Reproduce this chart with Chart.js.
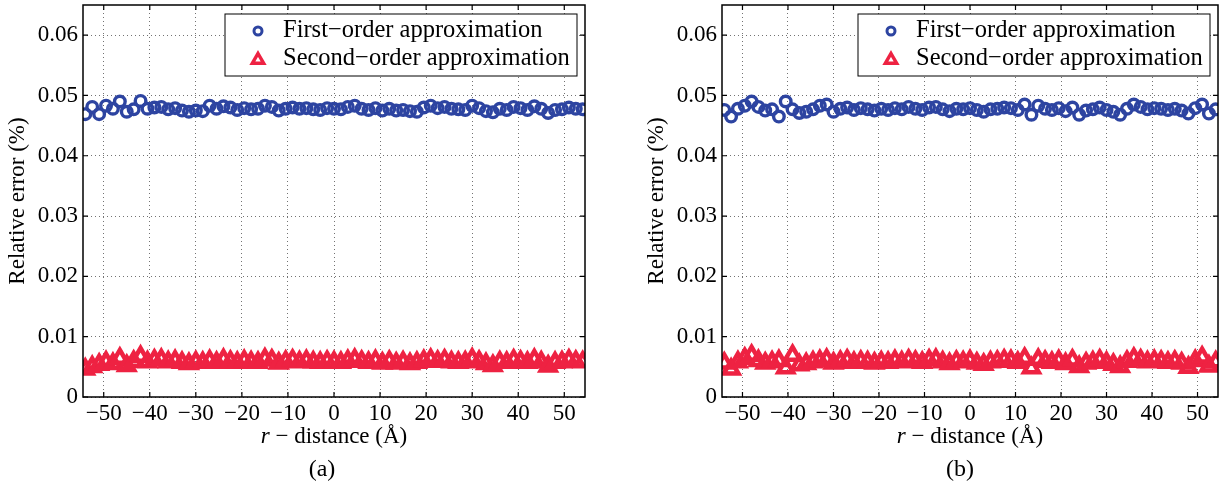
<!DOCTYPE html>
<html>
<head>
<meta charset="utf-8">
<script src="https://cdn.jsdelivr.net/npm/chart.js@4.4.0/dist/chart.umd.min.js"></script>
<style>
body { margin: 0; background: #fff; width: 1220px; height: 492px; overflow: hidden; position: relative; font-family: "Liberation Serif", serif; }
.box { position: absolute; top: 0; height: 460px; }
#boxA { left: 0; width: 600px; }
#boxB { left: 637px; width: 583px; }
.cap { position: absolute; top: 455px; width: 60px; text-align: center; font-size: 24px; color: #000; }
</style>
</head>
<body>
<div class="box" id="boxA"><canvas id="chartA"></canvas></div>
<div class="box" id="boxB"><canvas id="chartB"></canvas></div>
<div class="cap" style="left:292px">(a)</div>
<div class="cap" style="left:930px">(b)</div>
<script>
// r - distance (Angstrom), same sample points for both panels
var distances = [
  -54, -52.5, -51, -49.5, -48, -46.5, -45, -43.5, -42, -40.5,
  -39, -37.5, -36, -34.5, -33, -31.5, -30, -28.5, -27, -25.5,
  -24, -22.5, -21, -19.5, -18, -16.5, -15, -13.5, -12, -10.5,
  -9, -7.5, -6, -4.5, -3, -1.5, 0, 1.5, 3, 4.5,
  6, 7.5, 9, 10.5, 12, 13.5, 15, 16.5, 18, 19.5,
  21, 22.5, 24, 25.5, 27, 28.5, 30, 31.5, 33, 34.5,
  36, 37.5, 39, 40.5, 42, 43.5, 45, 46.5, 48, 49.5,
  51, 52.5, 54
];

// panel (a)
var firstOrderA = [
  0.0469, 0.0481, 0.0469, 0.0483, 0.0478, 0.0490, 0.0473, 0.0477, 0.0491, 0.0478,
  0.0480, 0.0481, 0.0477, 0.0479, 0.0475, 0.0473, 0.0475, 0.0474, 0.0483, 0.0478,
  0.0482, 0.0480, 0.0476, 0.0479, 0.0477, 0.0478, 0.0483, 0.0481, 0.0475, 0.0478,
  0.0480, 0.0478, 0.0479, 0.0477, 0.0476, 0.0479, 0.0478, 0.0477, 0.0481, 0.0483,
  0.0478, 0.0476, 0.0479, 0.0475, 0.0478, 0.0475, 0.0476, 0.0474, 0.0473, 0.0480,
  0.0483, 0.0479, 0.0481, 0.0478, 0.0477, 0.0476, 0.0483, 0.0479, 0.0474, 0.0472,
  0.0478, 0.0476, 0.0481, 0.0479, 0.0476, 0.0482, 0.0478, 0.0471, 0.0476, 0.0477,
  0.0480, 0.0478, 0.0477
];
var secondOrderA = [
  0.0046, 0.0050, 0.0054, 0.0058, 0.0055, 0.0064, 0.0052, 0.0059, 0.0067, 0.0058,
  0.0061, 0.0062, 0.0058, 0.0060, 0.0057, 0.0055, 0.0058, 0.0057, 0.0060, 0.0057,
  0.0062, 0.0059, 0.0057, 0.0060, 0.0058, 0.0057, 0.0063, 0.0061, 0.0056, 0.0059,
  0.0061, 0.0058, 0.0060, 0.0058, 0.0057, 0.0059, 0.0058, 0.0057, 0.0060, 0.0062,
  0.0059, 0.0057, 0.0060, 0.0056, 0.0059, 0.0056, 0.0058, 0.0055, 0.0057, 0.0060,
  0.0062, 0.0059, 0.0061, 0.0058, 0.0057, 0.0058, 0.0063, 0.0059, 0.0055, 0.0052,
  0.0058, 0.0057, 0.0061, 0.0059, 0.0057, 0.0062, 0.0058, 0.0051, 0.0057, 0.0058,
  0.0061, 0.0059, 0.0058
];

// panel (b)
var firstOrderB = [
  0.0476, 0.0465, 0.0478, 0.0483, 0.0490, 0.0481, 0.0475, 0.0477, 0.0465, 0.0490,
  0.0477, 0.0471, 0.0473, 0.0477, 0.0483, 0.0485, 0.0473, 0.0478, 0.0480, 0.0476,
  0.0479, 0.0477, 0.0475, 0.0478, 0.0476, 0.0479, 0.0477, 0.0481, 0.0478, 0.0476,
  0.0480, 0.0481, 0.0477, 0.0474, 0.0478, 0.0477, 0.0479, 0.0476, 0.0473, 0.0477,
  0.0478, 0.0480, 0.0479, 0.0476, 0.0485, 0.0468, 0.0483, 0.0478, 0.0476, 0.0479,
  0.0474, 0.0480, 0.0468, 0.0475, 0.0477, 0.0480, 0.0476, 0.0473, 0.0468, 0.0478,
  0.0485, 0.0481, 0.0477, 0.0479, 0.0478, 0.0476, 0.0478, 0.0475, 0.0470, 0.0479,
  0.0485, 0.0470, 0.0477
];
var secondOrderB = [
  0.0056, 0.0046, 0.0058, 0.0064, 0.0069, 0.0060, 0.0056, 0.0058, 0.0060, 0.0048,
  0.0069, 0.0053, 0.0055, 0.0058, 0.0060, 0.0062, 0.0056, 0.0059, 0.0061, 0.0057,
  0.0059, 0.0058, 0.0056, 0.0058, 0.0057, 0.0060, 0.0058, 0.0061, 0.0059, 0.0057,
  0.0061, 0.0062, 0.0058, 0.0055, 0.0059, 0.0058, 0.0060, 0.0056, 0.0054, 0.0058,
  0.0059, 0.0061, 0.0060, 0.0057, 0.0064, 0.0048, 0.0062, 0.0059, 0.0057, 0.0060,
  0.0055, 0.0061, 0.0050, 0.0056, 0.0058, 0.0061, 0.0057, 0.0054, 0.0050, 0.0059,
  0.0064, 0.0061, 0.0058, 0.0060, 0.0059, 0.0057, 0.0059, 0.0056, 0.0049, 0.0060,
  0.0066, 0.0051, 0.0058
];

var seriesNames = ['First\u2212order approximation', 'Second\u2212order approximation'];
var xTicks = [-50, -40, -30, -20, -10, 0, 10, 20, 30, 40, 50];
var yTicks = [0, 0.01, 0.02, 0.03, 0.04, 0.05, 0.06];

var BLUE = '#2d44a1';
var RED = '#ee2242';
var FONT = '"Liberation Serif", "Times New Roman", serif';

function toPoints(ys) {
    return distances.map(function (d, i) { return {x: d, y: ys[i]}; });
}

// matlab style box, inward ticks, legend inside and the x label with italic r
var framePlugin = {
    id: 'frame',
    afterDraw: function (chart) {
        var ctx = chart.ctx, a = chart.chartArea;
        var xs = chart.scales.x, ys = chart.scales.y;
        ctx.save();
        ctx.strokeStyle = '#000';
        ctx.lineWidth = 1.2;
        ctx.beginPath();
        xTicks.forEach(function (v) {
            var p = xs.getPixelForValue(v);
            ctx.moveTo(p, a.bottom); ctx.lineTo(p, a.bottom - 5);
            ctx.moveTo(p, a.top); ctx.lineTo(p, a.top + 5);
        });
        yTicks.forEach(function (v) {
            var p = ys.getPixelForValue(v);
            ctx.moveTo(a.left, p); ctx.lineTo(a.left + 5, p);
            ctx.moveTo(a.right, p); ctx.lineTo(a.right - 5, p);
        });
        ctx.stroke();
        ctx.lineWidth = 1.5;
        ctx.strokeRect(a.left, a.top, a.right - a.left, a.bottom - a.top);

        // legend
        var lw = 352, lh = 62;
        var lx = a.right - 8 - lw, ly = a.top + 9;
        ctx.fillStyle = '#fff';
        ctx.fillRect(lx, ly, lw, lh);
        ctx.lineWidth = 1;
        ctx.strokeRect(lx, ly, lw, lh);
        var rows = [ly + 17, ly + 45];
        ctx.lineWidth = 3;
        ctx.strokeStyle = BLUE;
        ctx.beginPath();
        ctx.arc(lx + 33, rows[0], 4, 0, Math.PI * 2);
        ctx.stroke();
        ctx.strokeStyle = RED;
        ctx.lineWidth = 3.5;
        ctx.beginPath();
        var r = 6.5, cx = lx + 33, cy = rows[1] + 1;
        ctx.moveTo(cx, cy - r);
        ctx.lineTo(cx + r * 0.866, cy + r / 2);
        ctx.lineTo(cx - r * 0.866, cy + r / 2);
        ctx.closePath();
        ctx.stroke();
        ctx.fillStyle = '#000';
        ctx.font = '24.5px ' + FONT;
        ctx.textBaseline = 'middle';
        ctx.textAlign = 'left';
        ctx.fillText(seriesNames[0], lx + 58, rows[0]);
        ctx.fillText(seriesNames[1], lx + 58, rows[1]);

        // x axis label
        var t1 = 'r', t2 = ' \u2212 distance (\u00c5)';
        ctx.font = 'italic 23px ' + FONT;
        var w1 = ctx.measureText(t1).width;
        ctx.font = '23px ' + FONT;
        var w2 = ctx.measureText(t2).width;
        var sx = (a.left + a.right) / 2 - (w1 + w2) / 2;
        var ty = a.bottom + 40;
        ctx.font = 'italic 23px ' + FONT;
        ctx.fillText(t1, sx, ty);
        ctx.font = '23px ' + FONT;
        ctx.fillText(t2, sx + w1, ty);
        ctx.restore();
    }
};

function noPad(s) {
    s.paddingTop = 0; s.paddingBottom = 0; s.paddingLeft = 0; s.paddingRight = 0;
}

function makeChart(id, firstVals, secondVals, yAxisWidth, padRight, titlePad) {
    var ctx = document.getElementById(id).getContext('2d');
    return new Chart(ctx, {
        type: 'scatter',
        data: {
            datasets: [{
                label: seriesNames[0],
                data: toPoints(firstVals),
                pointStyle: 'circle',
                pointRadius: 5.3,
                pointBorderWidth: 3.4,
                borderColor: BLUE,
                backgroundColor: 'rgba(0,0,0,0)'
            }, {
                label: seriesNames[1],
                data: toPoints(secondVals),
                pointStyle: 'triangle',
                pointRadius: 8.5,
                pointBorderWidth: 4.5,
                borderColor: RED,
                backgroundColor: 'rgba(0,0,0,0)'
            }]
        },
        options: {
            responsive: true,
            maintainAspectRatio: false,
            animation: false,
            layout: { autoPadding: false, padding: { top: 5, right: padRight, left: 0, bottom: 0 } },
            plugins: {
                legend: { display: false },
                tooltip: { enabled: false }
            },
            scales: {
                x: {
                    type: 'linear',
                    min: -54.5,
                    max: 54.5,
                    ticks: {
                        stepSize: 10,
                        maxRotation: 0,
                        padding: 3,
                        color: '#000',
                        font: { family: FONT, size: 23 },
                        callback: function (v) { return v < 0 ? '\u2212' + Math.abs(v) : '' + v; }
                    },
                    afterBuildTicks: function (s) {
                        s.ticks = xTicks.map(function (v) { return {value: v}; });
                    },
                    afterFit: function (s) { s.height = 63; noPad(s); },
                    grid: { color: 'rgba(0,0,0,0.55)', lineWidth: 1, drawTicks: false },
                    border: { display: false, dash: [1, 3] }
                },
                y: {
                    min: 0,
                    max: 0.065,
                    ticks: {
                        stepSize: 0.01,
                        padding: 5,
                        color: '#000',
                        font: { family: FONT, size: 23 },
                        callback: function (v) { return v === 0 ? '0' : v.toFixed(2); }
                    },
                    afterBuildTicks: function (s) {
                        s.ticks = yTicks.map(function (v) { return {value: v}; });
                    },
                    afterFit: function (s) { s.width = yAxisWidth; noPad(s); },
                    title: {
                        display: true,
                        text: 'Relative error (%)',
                        color: '#000',
                        font: { family: FONT, size: 23 },
                        padding: { top: titlePad, bottom: 0 }
                    },
                    grid: { color: 'rgba(0,0,0,0.55)', lineWidth: 1, drawTicks: false },
                    border: { display: false, dash: [1, 3] }
                }
            }
        },
        plugins: [framePlugin]
    });
}

var chartA = makeChart('chartA', firstOrderA, secondOrderA, 83, 15, 4);
var chartB = makeChart('chartB', firstOrderB, secondOrderB, 85, 2, 6);
</script>
</body>
</html>
